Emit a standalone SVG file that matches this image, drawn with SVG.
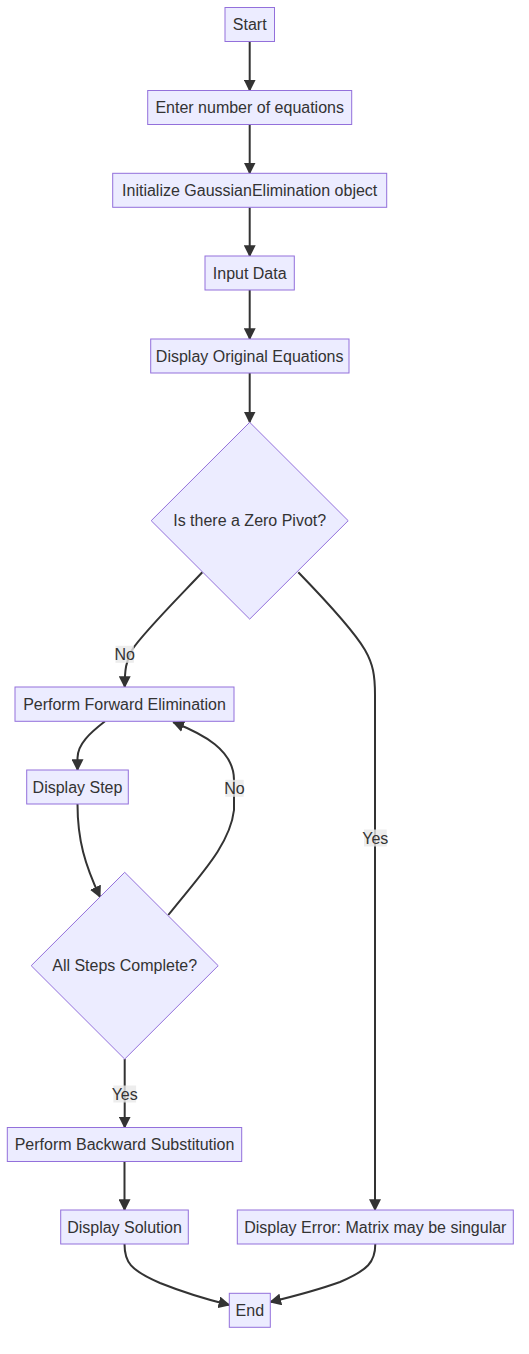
<svg xmlns="http://www.w3.org/2000/svg" width="529" height="1354" viewBox="0 0 529 1354">
<style>
.node rect, .node polygon { fill: #ECECFF; stroke: #9370DB; stroke-width: 1px; }
.node text { font-family: "Liberation Sans", Arial, sans-serif; font-size: 16px; fill: #333; text-anchor: middle; dominant-baseline: central; }
.edge { fill: none; stroke: #333; stroke-width: 2px; marker-end: url(#arrow); }
.lbl rect { fill: #e8e8e8; fill-opacity: 0.8; }
.lbl text { font-family: "Liberation Sans", Arial, sans-serif; font-size: 16px; fill: #333; text-anchor: middle; dominant-baseline: central; }
</style>
<defs>
<marker id="arrow" viewBox="0 0 10 10" refX="9" refY="5" markerUnits="userSpaceOnUse" markerWidth="12" markerHeight="12" orient="auto">
<path d="M0,0 L10,5 L0,10 z" fill="#333"/>
</marker>
</defs>
<rect width="529" height="1354" fill="#ffffff"/>
<g id="connectors">
<path class="edge" d="M249.7,41.5 V90.5"/>
<path class="edge" d="M249.7,124.5 V173.3"/>
<path class="edge" d="M249.7,207.3 V256"/>
<path class="edge" d="M249.7,290 V339"/>
<path class="edge" d="M249.7,373 V422.3"/>
<path class="edge" d="M202.3,572.3 C180,596 142,634 132,650 C126,661 124.7,670 124.7,687"/>
<path class="edge" d="M298.3,572.3 C330,605 355,633 365,650 C373,664 375,675 375,695 L375,1210"/>
<path class="edge" d="M105,721.3 C90,733 77.5,744 77.5,758 L77.5,770"/>
<path class="edge" d="M77.5,804 C77.5,840 85,865 100,897"/>
<path class="edge" d="M168.3,915 C200,875 230,845 234,810 L234,780 C234,750 203,734 173.3,722.3"/>
<path class="edge" d="M124.7,1059 V1127.5"/>
<path class="edge" d="M124.5,1161.5 V1210"/>
<path class="edge" d="M124.5,1244 C124.5,1262 130,1270 160,1283 C185,1293 205,1299 229.3,1305"/>
<path class="edge" d="M375.3,1244 C375.3,1262 368,1270 340,1282 C315,1291 295,1296 270.3,1302"/>
<g class="lbl" id="lbl-no1"><rect x="115.5" y="645.8" width="18.4" height="17"/><text x="124.7" y="654.3">No</text></g>
<g class="lbl" id="lbl-no2"><rect x="225.3" y="779.8" width="18.4" height="17"/><text x="234.5" y="788.3">No</text></g>
<g class="lbl" id="lbl-yes1"><rect x="364" y="829.5" width="22.7" height="17"/><text x="375.3" y="838">Yes</text></g>
<g class="lbl" id="lbl-yes2"><rect x="113.4" y="1085.5" width="22.7" height="17"/><text x="124.7" y="1094">Yes</text></g>
</g>
<g class="node" id="start"><rect x="225" y="7.5" width="49.5" height="34"/><text x="249.7" y="24.5">Start</text></g>
<g class="node" id="enter"><rect x="147.7" y="90.5" width="204" height="34"/><text x="249.7" y="107.5">Enter number of equations</text></g>
<g class="node" id="init"><rect x="112.7" y="173.3" width="274" height="34"/><text x="249.7" y="190.3">Initialize GaussianElimination object</text></g>
<g class="node" id="input"><rect x="205" y="256" width="89.3" height="34"/><text x="249.7" y="273">Input Data</text></g>
<g class="node" id="display-orig"><rect x="150.7" y="339" width="198.3" height="34"/><text x="249.7" y="356">Display Original Equations</text></g>
<g class="node" id="zero-pivot"><polygon points="249.7,422.3 348.2,520.7 249.7,619.1 151.2,520.7"/><text x="249.7" y="520.7">Is there a Zero Pivot?</text></g>
<g class="node" id="forward"><rect x="15" y="687" width="219" height="34.3"/><text x="124.5" y="704.2">Perform Forward Elimination</text></g>
<g class="node" id="display-step"><rect x="26.7" y="770" width="101.6" height="34"/><text x="77.5" y="787">Display Step</text></g>
<g class="node" id="all-steps"><polygon points="124.7,872.3 218.2,965.7 124.7,1059.1 31.2,965.7"/><text x="124.7" y="965.7">All Steps Complete?</text></g>
<g class="node" id="backward"><rect x="7.3" y="1127.5" width="234.4" height="34"/><text x="124.5" y="1144.5">Perform Backward Substitution</text></g>
<g class="node" id="display-solution"><rect x="60.7" y="1210" width="127.6" height="34"/><text x="124.5" y="1227">Display Solution</text></g>
<g class="node" id="display-error"><rect x="237.3" y="1210" width="276" height="34"/><text x="375.3" y="1227">Display Error: Matrix may be singular</text></g>
<g class="node" id="end"><rect x="229.3" y="1293.3" width="41" height="34"/><text x="249.8" y="1310.3">End</text></g>
</svg>
